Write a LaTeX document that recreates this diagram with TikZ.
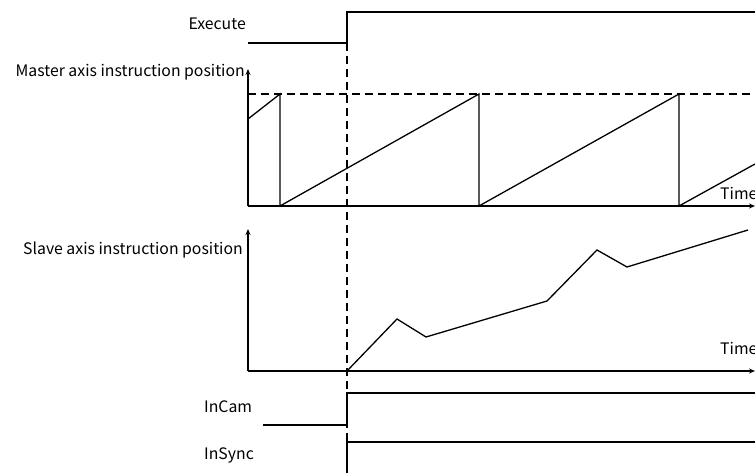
\documentclass[tikz,border=0pt]{standalone}
\usepackage{fontspec}
\setmainfont{Noto Sans CJK SC}
\usetikzlibrary{arrows.meta}
\begin{document}
\begin{tikzpicture}[x=1pt,y=-1pt,
  sig/.style={line width=1.3pt},
  ax/.style={line width=1.1pt,-{Stealth[length=6pt,width=5pt]}},
  dsh/.style={line width=1.2pt,dash pattern=on 8pt off 5pt},
  lbl/.style={font=\fontsize{15.8}{18}\selectfont,inner sep=0pt},
]
\useasboundingbox (0,0) rectangle (755,473);
% Execute
\node[lbl,anchor=east] (exe) at (246,24) {Execute};
\draw[sig] (248,43) -- (347,43) -- (347,12) -- (755,12);
% Master axis
\coordinate (mo) at (248,206);
\coordinate (my) at (248,69);
\coordinate (mx) at (755,206);
\node[lbl,anchor=east] (mlab) at (245,72) {Master axis instruction position};
\draw[ax] (mo) -- (my);
\draw[ax] (mo) -- (mx);
\node[lbl,anchor=west] (mt) at (720,193) {Time};
\draw[dsh] (248,94) -- (755,94);
\draw[sig] (248,119) -- (280,94) -- (280,206) -- (479,94) -- (479,206) -- (679,94) -- (679,206) -- (755,164);
% Slave axis
\coordinate (so) at (248,371);
\coordinate (sy) at (248,229);
\coordinate (sx) at (755,371);
\node[lbl,anchor=east] (slab) at (243,250) {Slave axis instruction position};
\draw[ax] (so) -- (sy);
\draw[ax] (so) -- (sx);
\node[lbl,anchor=west] (st) at (720,348) {Time};
\draw[sig] (347,371) -- (397,319) -- (426,337) -- (547,301) -- (597,250) -- (627,267) -- (748,230);
% InCam
\node[lbl,anchor=west] (ic) at (204,407) {InCam};
\draw[sig] (263,425) -- (347,425) -- (347,393) -- (755,393);
% InSync
\node[lbl,anchor=west] (is) at (204,455) {InSync};
\draw[sig] (347,473) -- (347,442) -- (755,442);
% dashed execute line
\draw[dsh] (347,43) -- (347,473);
\end{tikzpicture}
\end{document}
